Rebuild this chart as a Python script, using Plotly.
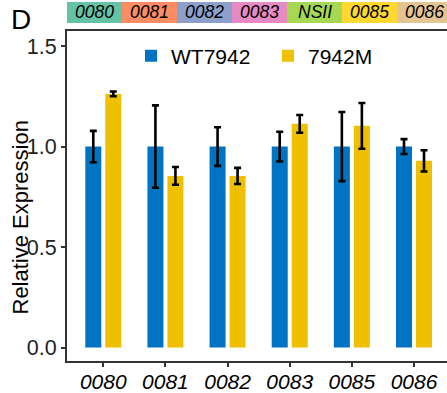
import plotly.graph_objects as go

genes = ["0080", "0081", "0082", "0083", "0085", "0086"]
wt_values = [1.0, 1.0, 1.0, 1.0, 1.0, 1.0]
wt_errors = [0.078, 0.205, 0.096, 0.074, 0.172, 0.037]
mut_values = [1.262, 0.854, 0.854, 1.113, 1.103, 0.929]
mut_errors = [0.012, 0.044, 0.040, 0.044, 0.114, 0.053]
strip_labels = ["0080", "0081", "0082", "0083", "NSII", "0085", "0086"]
strip_colors = ["#66C2A5", "#FC8D62", "#8DA0CB", "#E78AC3", "#A6D854", "#FFD92F", "#E5C494"]
y_ticks = [0.0, 0.5, 1.0, 1.5]
y_tick_text = ["0.0", "0.5", "1.0", "1.5"]

FONT = "Liberation Sans, Arial, sans-serif"
W, H = 447, 393
ML, MR, MT, MB = 67, 0, 31, 32
PW = W - ML - MR
PH = H - MT - MB

x_idx = list(range(len(genes)))

fig = go.Figure()
fig.add_trace(go.Bar(
    x=x_idx, y=wt_values, name="WT7942", marker_color="#0073C2",
    marker_line_width=0,
    error_y=dict(type="data", array=wt_errors, color="black", thickness=2.6, width=3.5),
))
fig.add_trace(go.Bar(
    x=x_idx, y=mut_values, name="7942M", marker_color="#EFC000",
    marker_line_width=0,
    error_y=dict(type="data", array=mut_errors, color="black", thickness=2.6, width=3.5),
))

shapes = []
annotations = []
box_w = 55.0 / PW
def py(p):
    return (H - MB - p) / PH
for i, (lab, col) in enumerate(zip(strip_labels, strip_colors)):
    x0 = i * box_w
    x1 = min((i + 1) * box_w, 1.0)
    shapes.append(dict(type="rect", xref="paper", yref="paper", x0=x0, x1=x1,
                       y0=py(23), y1=py(2), fillcolor=col, line_width=0, layer="above"))
    annotations.append(dict(text="<i>" + lab + "</i>", xref="paper", yref="paper",
                            x=(i + 0.5) * box_w, y=(py(23) + py(2)) / 2, showarrow=False,
                            font=dict(family=FONT, size=17.5, color="black"),
                            xanchor="center", yanchor="middle"))

annotations.append(dict(text="D", xref="paper", yref="paper", x=(20.5 - ML) / PW, y=py(20),
                        showarrow=False, font=dict(family=FONT, size=28, color="black"),
                        xanchor="center", yanchor="middle"))
annotations.append(dict(text="Relative Expression", xref="paper", yref="paper",
                        x=(20 - ML) / PW, y=py(217.5), textangle=-90, showarrow=False,
                        font=dict(family=FONT, size=22, color="black"),
                        xanchor="center", yanchor="middle"))

fig.update_layout(
    width=W, height=H,
    margin=dict(l=ML, r=MR, t=MT, b=MB, pad=0, autoexpand=False),
    paper_bgcolor="white", plot_bgcolor="white",
    barmode="group", bargap=0.356, bargroupgap=0.2,
    font=dict(family=FONT, size=21, color="black"),
    showlegend=True,
    legend=dict(orientation="h", x=(131 - ML) / PW, xanchor="left", y=py(56), yanchor="middle",
                font=dict(family=FONT, size=21, color="black"),
                bgcolor="rgba(0,0,0,0)", entrywidth=92, entrywidthmode="pixels",
                itemsizing="constant"),
    shapes=shapes,
    annotations=annotations,
)
fig.update_xaxes(
    range=[-0.584, 5.531], tickmode="array", tickvals=x_idx,
    ticktext=["<i>" + g + "</i>" for g in genes],
    showline=True, linecolor="#333333", linewidth=2, mirror=True,
    ticks="outside", ticklen=4, tickwidth=1.5, tickcolor="#333333",
    tickfont=dict(family=FONT, size=21, color="black"), ticklabelstandoff=-3,
    showgrid=False, zeroline=False, automargin=False,
)
fig.update_yaxes(
    range=[-0.067, 1.575], tickmode="array", tickvals=y_ticks, ticktext=y_tick_text,
    showline=True, linecolor="#333333", linewidth=2, mirror=False,
    ticks="outside", ticklen=4, tickwidth=1.5, tickcolor="#333333",
    tickfont=dict(family=FONT, size=21.5, color="#222222"),
    showgrid=False, zeroline=False, automargin=False,
)

fig.write_html("out.html")
